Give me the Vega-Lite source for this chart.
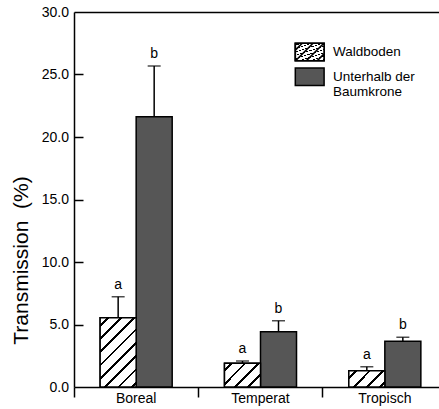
{
  "$schema": "https://vega.github.io/schema/vega-lite/v6.json",
  "autosize": "none",
  "padding": {"left": 74, "top": 12, "right": 0, "bottom": 22},
  "width": 365,
  "height": 375,
  "background": "white",
  "config": {"view": {"stroke": null}, "font": "Liberation Sans"},
  "data": {"values": [
    {"region": "Boreal", "gruppe": "Waldboden", "wert": 5.54, "oben": 7.22, "sig": "a"},
    {"region": "Boreal", "gruppe": "Unterhalb der Baumkrone", "wert": 21.62, "oben": 25.68, "sig": "b"},
    {"region": "Temperat", "gruppe": "Waldboden", "wert": 1.9, "oben": 2.08, "sig": "a"},
    {"region": "Temperat", "gruppe": "Unterhalb der Baumkrone", "wert": 4.42, "oben": 5.3, "sig": "b"},
    {"region": "Tropisch", "gruppe": "Waldboden", "wert": 1.3, "oben": 1.62, "sig": "a"},
    {"region": "Tropisch", "gruppe": "Unterhalb der Baumkrone", "wert": 3.66, "oben": 3.98, "sig": "b"}
  ]},
  "resolve": {"axis": {"x": "independent", "y": "independent"}},
  "layer": [
    {
      "mark": {"type": "bar", "stroke": "black", "strokeWidth": 1.5},
      "encoding": {
        "x": {"field": "region", "type": "nominal", "sort": ["Boreal", "Temperat", "Tropisch"],
          "scale": {"range": [0, 373], "paddingInner": 0, "paddingOuter": 0},
          "axis": {"orient": "bottom", "title": null, "labelAngle": 0, "labelFont": "Liberation Sans", "labelFontSize": 14, "labelColor": "black", "ticks": false, "domainColor": "black", "domainWidth": 1.5, "labelPadding": 4, "grid": false}},
        "xOffset": {"field": "gruppe", "type": "nominal",
          "scale": {"domain": ["Waldboden", "Unterhalb der Baumkrone"], "paddingInner": 0, "paddingOuter": 0.726}},
        "y": {"field": "wert", "type": "quantitative", "title": "Transmission\u00a0 (%)",
          "scale": {"domain": [0, 30], "nice": false},
          "axis": {"orient": "left", "values": [0, 5, 10, 15, 20, 25, 30], "format": ".1f", "grid": false,
            "labelFont": "Liberation Sans", "labelFontSize": 14, "labelColor": "black", "labelPadding": 5.5,
            "ticks": false, "domainColor": "black", "domainWidth": 1.5,
            "titleFont": "Liberation Sans", "titleFontSize": 21, "titleFontWeight": "normal", "titleColor": "black",
            "titleX": -53, "titleY": 248, "titleBaseline": "middle", "titleAlign": "center", "titleAngle": -90}},
        "fill": {"field": "gruppe", "type": "nominal",
          "scale": {"domain": ["Waldboden", "Unterhalb der Baumkrone"], "range": ["transparent", "#565656"]},
          "legend": {"orient": "none", "legendX": 225.7, "legendY": 30, "title": null, "padding": 0,
            "symbolType": "M-1.6,-0.97H1.6V0.97H-1.6Z", "symbolSize": 324,
            "symbolStrokeColor": "black", "symbolStrokeWidth": 1.5, "symbolOpacity": 1,
            "labelFont": "Liberation Sans", "labelFontSize": 13.5, "labelColor": "black", "labelOffset": 13.3, "labelLimit": 0,
            "rowPadding": 0.7,
            "labelExpr": "datum.label == 'Unterhalb der Baumkrone' ? ['Unterhalb der', 'Baumkrone'] : datum.label",
            "encode": {
              "labels": {"lineHeight": {"value": 13.5}, "dy": {"value": {"expr": "datum.value === 'Unterhalb der Baumkrone' ? -4 : 0"}}}
            }}}
      }
    },
    {
      "transform": [{"filter": "datum.gruppe === 'Waldboden' && datum.region === 'Boreal'"}],
      "mark": {"type": "bar", "strokeWidth": 1.5,
        "fill": {"gradient": "linear", "x1": 0, "y1": 0, "x2": 0.6233, "y2": 1.196, "stops": [
          {"offset": 0, "color": "white"},
          {"offset": 0.06, "color": "white"}, {"offset": 0.06, "color": "black"}, {"offset": 0.0866, "color": "black"}, {"offset": 0.0866, "color": "white"},
          {"offset": 0.1865, "color": "white"}, {"offset": 0.1865, "color": "black"}, {"offset": 0.2131, "color": "black"}, {"offset": 0.2131, "color": "white"},
          {"offset": 0.313, "color": "white"}, {"offset": 0.313, "color": "black"}, {"offset": 0.3396, "color": "black"}, {"offset": 0.3396, "color": "white"},
          {"offset": 0.4395, "color": "white"}, {"offset": 0.4395, "color": "black"}, {"offset": 0.4661, "color": "black"}, {"offset": 0.4661, "color": "white"},
          {"offset": 0.566, "color": "white"}, {"offset": 0.566, "color": "black"}, {"offset": 0.5926, "color": "black"}, {"offset": 0.5926, "color": "white"},
          {"offset": 0.6925, "color": "white"}, {"offset": 0.6925, "color": "black"}, {"offset": 0.7191, "color": "black"}, {"offset": 0.7191, "color": "white"},
          {"offset": 0.819, "color": "white"}, {"offset": 0.819, "color": "black"}, {"offset": 0.8456, "color": "black"}, {"offset": 0.8456, "color": "white"},
          {"offset": 0.9455, "color": "white"}, {"offset": 0.9455, "color": "black"}, {"offset": 0.9721, "color": "black"}, {"offset": 0.9721, "color": "white"},
          {"offset": 1, "color": "white"}
        ]}},
      "encoding": {
        "x": {"field": "region", "type": "nominal", "axis": null},
        "xOffset": {"field": "gruppe", "type": "nominal"},
        "y": {"field": "wert", "type": "quantitative", "axis": null},
        "stroke": {"datum": "Waldboden", "type": "nominal",
          "scale": {"domain": ["Waldboden"], "range": ["black"]},
          "legend": {"orient": "none", "legendX": 225.7, "legendY": 30, "title": null, "padding": 0,
            "symbolType": "M-1.6,-0.97H1.6V0.97H-1.6Z M-1.6,-0.2L-0.83,-0.97 M-1.57,0.97L0.37,-0.97 M-0.37,0.97L1.57,-0.97 M0.83,0.97L1.6,0.2",
            "symbolSize": 324, "symbolStrokeWidth": 1.7, "symbolFillColor": "transparent", "symbolOpacity": 1,
            "labelFont": "Liberation Sans", "labelFontSize": 13.5, "labelOpacity": 0, "labelOffset": 13.3}}
      }
    },
    {
      "transform": [{"filter": "datum.gruppe === 'Waldboden' && datum.region === 'Temperat'"}],
      "mark": {"type": "bar", "stroke": "black", "strokeWidth": 1.5,
        "fill": {"gradient": "linear", "x1": 0, "y1": 0, "x2": 1.16, "y2": 0.754, "stops": [
          {"offset": 0, "color": "white"},
          {"offset": 0.1, "color": "white"}, {"offset": 0.1, "color": "black"}, {"offset": 0.1471, "color": "black"}, {"offset": 0.1471, "color": "white"},
          {"offset": 0.3239, "color": "white"}, {"offset": 0.3239, "color": "black"}, {"offset": 0.371, "color": "black"}, {"offset": 0.371, "color": "white"},
          {"offset": 0.5478, "color": "white"}, {"offset": 0.5478, "color": "black"}, {"offset": 0.5949, "color": "black"}, {"offset": 0.5949, "color": "white"},
          {"offset": 0.7717, "color": "white"}, {"offset": 0.7717, "color": "black"}, {"offset": 0.8188, "color": "black"}, {"offset": 0.8188, "color": "white"},
          {"offset": 1, "color": "white"}
        ]}},
      "encoding": {
        "x": {"field": "region", "type": "nominal", "axis": null},
        "xOffset": {"field": "gruppe", "type": "nominal"},
        "y": {"field": "wert", "type": "quantitative", "axis": null}
      }
    },
    {
      "transform": [{"filter": "datum.gruppe === 'Waldboden' && datum.region === 'Tropisch'"}],
      "mark": {"type": "bar", "stroke": "black", "strokeWidth": 1.5,
        "fill": {"gradient": "linear", "x1": 0, "y1": 0, "x2": 1.206, "y2": 0.536, "stops": [
          {"offset": 0, "color": "white"},
          {"offset": 0.12, "color": "white"}, {"offset": 0.12, "color": "black"}, {"offset": 0.1738, "color": "black"}, {"offset": 0.1738, "color": "white"},
          {"offset": 0.3758, "color": "white"}, {"offset": 0.3758, "color": "black"}, {"offset": 0.4296, "color": "black"}, {"offset": 0.4296, "color": "white"},
          {"offset": 0.6316, "color": "white"}, {"offset": 0.6316, "color": "black"}, {"offset": 0.6854, "color": "black"}, {"offset": 0.6854, "color": "white"},
          {"offset": 0.8874, "color": "white"}, {"offset": 0.8874, "color": "black"}, {"offset": 0.9412, "color": "black"}, {"offset": 0.9412, "color": "white"},
          {"offset": 1, "color": "white"}
        ]}},
      "encoding": {
        "x": {"field": "region", "type": "nominal", "axis": null},
        "xOffset": {"field": "gruppe", "type": "nominal"},
        "y": {"field": "wert", "type": "quantitative", "axis": null}
      }
    },
    {
      "mark": {"type": "rule", "color": "black", "strokeWidth": 1.5},
      "encoding": {
        "x": {"field": "region", "type": "nominal",
          "axis": {"orient": "bottom", "title": null, "labels": false, "domain": false, "ticks": true, "tickSize": 10, "tickWidth": 1.5, "tickColor": "black", "bandPosition": 0, "grid": false}},
        "xOffset": {"field": "gruppe", "type": "nominal"},
        "y": {"field": "wert", "type": "quantitative", "axis": null},
        "y2": {"field": "oben"}
      }
    },
    {
      "mark": {"type": "tick", "color": "black", "size": 13, "thickness": 1.5, "orient": "horizontal"},
      "encoding": {
        "x": {"field": "region", "type": "nominal", "axis": null},
        "xOffset": {"field": "gruppe", "type": "nominal"},
        "y": {"field": "oben", "type": "quantitative",
          "axis": {"orient": "right", "offset": -365, "title": null, "labels": false, "domain": false, "ticks": true, "tickSize": 9, "tickWidth": 1.5, "tickColor": "black", "values": [5, 10, 15, 20, 25], "grid": false}}
      }
    },
    {
      "mark": {"type": "text", "font": "Liberation Sans", "fontSize": 14, "color": "black", "baseline": "alphabetic", "align": "center", "dy": -8},
      "encoding": {
        "x": {"field": "region", "type": "nominal",
          "axis": {"orient": "top", "title": null, "labels": false, "ticks": false, "domain": true, "domainColor": "black", "domainWidth": 1.5, "grid": false}},
        "xOffset": {"field": "gruppe", "type": "nominal"},
        "y": {"field": "oben", "type": "quantitative", "axis": null},
        "text": {"field": "sig"}
      }
    }
  ]
}
